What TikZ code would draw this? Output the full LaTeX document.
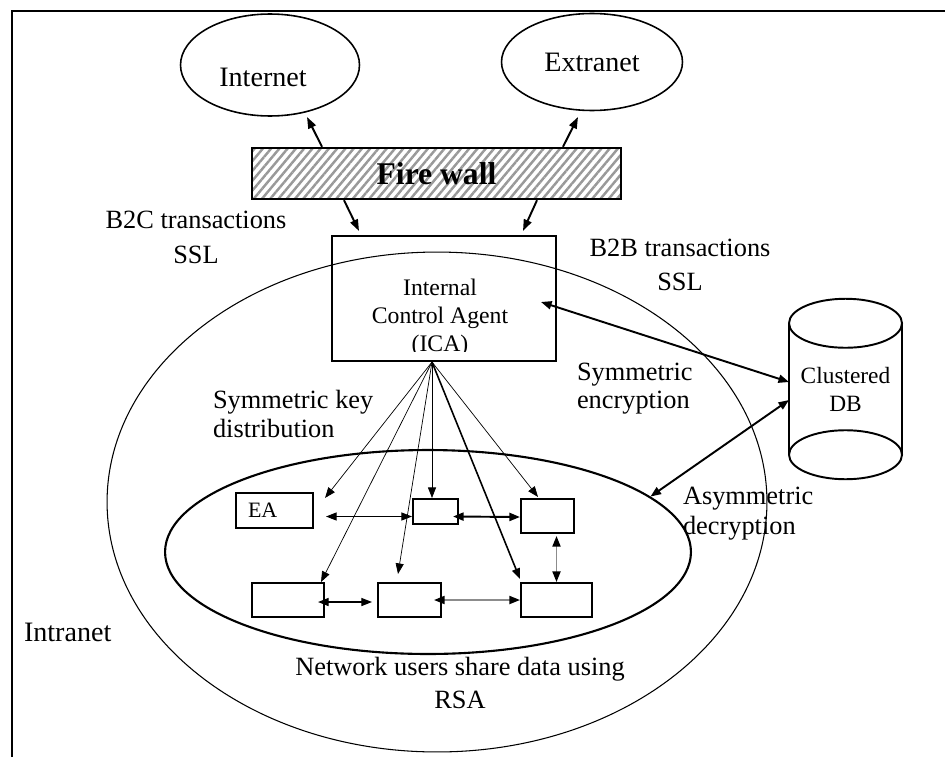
\documentclass[tikz,border=0pt]{standalone}
\usepackage{fontspec}
\setmainfont{Liberation Serif}
\usetikzlibrary{arrows.meta,shapes.geometric,patterns.meta}

\tikzset{
	lbl/.style={inner sep=0pt, outer sep=0pt, font=\fontsize{15}{17}\selectfont},
	net/.style={ellipse, draw, line width=0.9pt, inner sep=0pt, font=\fontsize{16}{19}\selectfont},
	user/.style={rectangle, draw, line width=1.2pt, inner sep=0pt, minimum height=0.68cm},
	fan/.style={line width=0.4pt, -{Triangle[length=6pt,width=4.6pt]}},
	up/.style={line width=1.1pt, -{Triangle[length=6.5pt,width=4.6pt]}},
	link/.style={{Triangle[length=6pt,width=4.6pt,color=black]}-{Triangle[length=6pt,width=4.6pt,color=black]}},
}

\begin{document}
\begin{tikzpicture}[x=0.02cm, y=-0.02cm]
	\useasboundingbox (0,0) rectangle (945,757);
	\draw[line width=1.7pt] (12,757) -- (12,11) -- (945,11);

	\node[net, minimum width=3.58cm, minimum height=2.04cm] (inet) at (270,65) {};
	\node[lbl, font=\fontsize{16}{19}\selectfont] (inettxt) at (263,77) {Internet};
	\node[net, minimum width=3.62cm, minimum height=1.94cm] (extra) at (592,62) {Extranet};

	\node[draw, line width=1.4pt, minimum width=7.38cm, minimum height=1.02cm,
		pattern={Lines[angle=50,distance=3.6pt,line width=1.4pt]}, pattern color=black!40,
		font=\fontsize{18}{20}\selectfont\bfseries] (fw) at (436.5,173.5) {Fire wall};

	\node[draw, line width=1.2pt, minimum width=4.48cm, minimum height=2.5cm] (ica) at (444,298.5) {};
	\begin{scope}
		\clip (ica.north west) rectangle ([shift={(0,-11)}]ica.south east);
		\node[lbl, align=center, font=\fontsize{13.5}{15.9}\selectfont] (icatxt) at (440,318) {Internal\\Control Agent\\(ICA)};
	\end{scope}

	\draw[up] ([shift={(-114.5,0)}]fw.north) -- ([shift={(37,52)}]inet.center);
	\draw[up] ([shift={(126.5,0)}]fw.north) -- ([shift={(-14,55)}]extra.center);
	\draw[up] ([shift={(-92.5,0)}]fw.south) -- ([shift={(-85,-4)}]ica.north);
	\draw[up] ([shift={(100.5,0)}]fw.south) -- ([shift={(79,-4)}]ica.north);

	\node[ellipse, draw, line width=0.6pt, minimum width=13.2cm, minimum height=10cm, inner sep=0pt] (intra) at (437,502) {};
	\node[ellipse, draw, line width=1.2pt, minimum width=10.52cm, minimum height=4.08cm, inner sep=0pt] (users) at (428,552) {};

	\node[user, minimum width=1.54cm, minimum height=0.7cm, text width=1.06cm, inner xsep=0.24cm, align=left,
		font=\fontsize{12.5}{14}\selectfont] (ea) at (274.5,510.5) {EA};
	\node[user, minimum width=0.9cm, minimum height=0.5cm] (u2) at (435.5,511.5) {};
	\node[user, minimum width=1.06cm] (u3) at (547.5,516) {};
	\node[user, minimum width=1.44cm] (u4) at (288,600) {};
	\node[user, minimum width=1.26cm] (u5) at (409.5,600) {};
	\node[user, minimum width=1.42cm] (u6) at (556.5,600) {};

	\coordinate (hub) at ([shift={(-12,0)}]ica.south);
	\draw[fan] (hub) -- ([shift={(11,6)}]ea.north east);
	\draw[fan] (hub) -- ([shift={(-4,0)}]u4.north east);
	\draw[fan] (hub) -- ([shift={(-11.5,-8)}]u5.north);
	\draw[fan] (hub) -- (hub |- u2.north);
	\draw[fan, line width=0.9pt] (hub) -- ([shift={(0,-3)}]u6.north west);
	\draw[fan] (hub) -- ([shift={(-9.5,-1)}]u3.north);

	\draw[link, line width=0.5pt] ([shift={(12,6)}]ea.east) -- ([shift={(0,5)}]u2.west);
	\draw[link, line width=1.1pt] ([shift={(-6,5)}]u2.east) -- ([shift={(0,1)}]u3.west);
	\draw[link, line width=0.9pt, draw=black!45] ([shift={(0,2)}]u3.south -| u6.north) -- (u6.north);
	\draw[link, line width=0.6pt] ([shift={(-7,2)}]u4.east) -- ([shift={(-5,2)}]u5.west);
	\draw[link, line width=0.9pt, draw=black!45] ([shift={(-8,0)}]u5.east) -- (u6.west);

	\node[lbl, align=center, font=\fontsize{13.3}{16}\selectfont, minimum width=2.26cm, minimum height=2.63cm] (db) at (845.5,389) {Clustered\\DB};
	\draw[line width=1.1pt] (db.north) ellipse [x radius=56.5, y radius=24.5];
	\draw[line width=1.1pt] (db.south) ellipse [x radius=56.5, y radius=24.5];
	\draw[line width=1.1pt] (db.north west) -- (db.south west) (db.north east) -- (db.south east);

	\draw[link, line width=1.1pt] ([shift={(-16,3.5)}]ica.east) -- ([shift={(0,-7)}]db.west);
	\draw[link, line width=1.1pt] (users.14) -- ([shift={(0,11)}]db.west);

	\node[lbl, align=center, font=\fontsize{15}{20}\selectfont] (b2c) at (196,237) {B2C transactions\\SSL};
	\node[lbl, align=center, font=\fontsize{15}{19.3}\selectfont] (b2b) at (680,265) {B2B transactions\\SSL};
	\node[lbl, align=left, anchor=west] (symkey) at (213,414) {Symmetric key\\distribution};
	\node[lbl, align=left, anchor=west, font=\fontsize{15}{16}\selectfont] (symenc) at (577,389) {Symmetric\\encryption};
	\node[lbl, align=left, anchor=west] (asym) at (683,514) {Asymmetric\\decryption};
	\node[lbl, anchor=west, font=\fontsize{16}{19}\selectfont] (intratxt) at (24,632) {Intranet};
	\node[lbl, align=center, font=\fontsize{15}{18.7}\selectfont] (rsa) at (460,683) {Network users share data using\\RSA};
\end{tikzpicture}
\end{document}
